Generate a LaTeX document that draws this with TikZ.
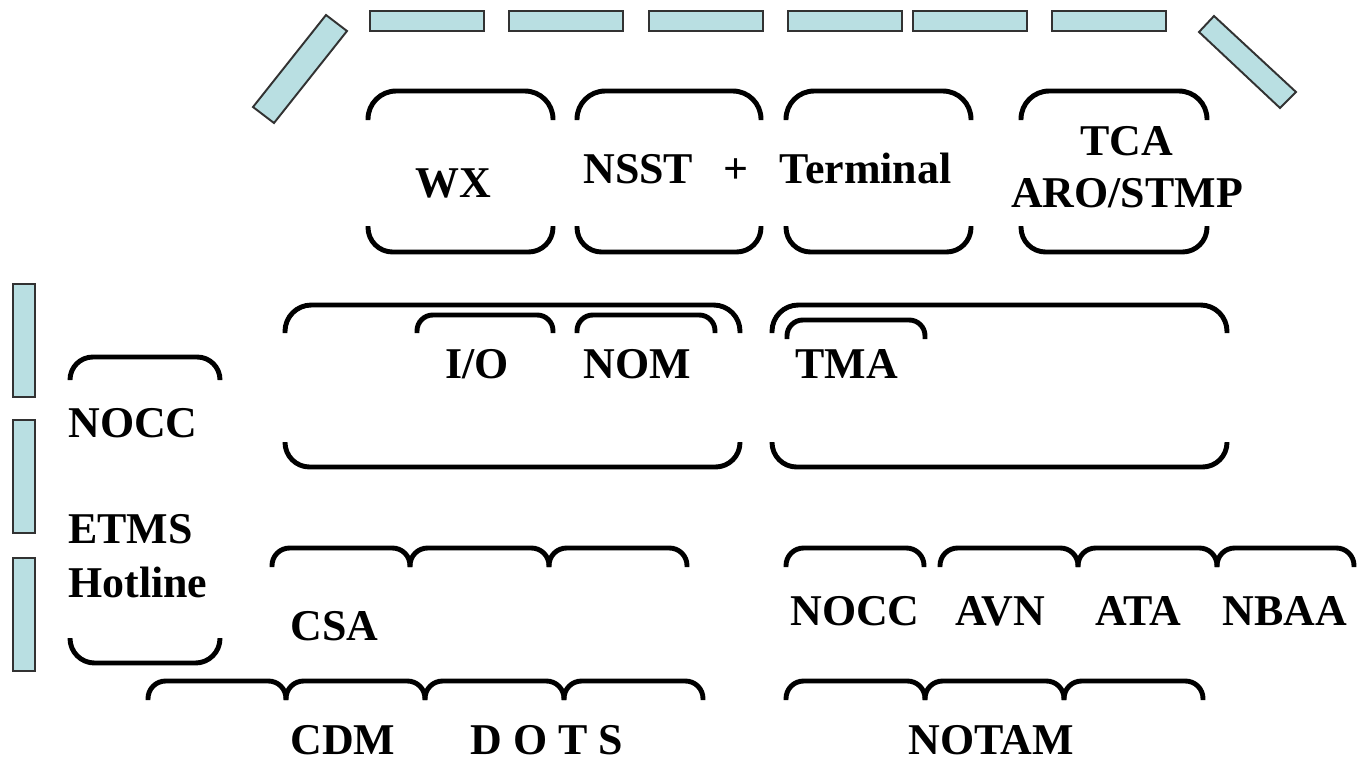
\documentclass[tikz,border=0pt]{standalone}
\usepackage{fontspec}
\setmainfont{Liberation Serif}
\usepackage{tikz}
\definecolor{panelblue}{RGB}{185,223,226}
\definecolor{panelline}{RGB}{50,50,50}
\tikzset{
  desk/.style={line width=2.8pt},
  panel/.style={fill=panelblue,draw=panelline,line width=1.1pt},
  lbl/.style={font=\bfseries\fontsize{25}{30}\selectfont,inner sep=0pt}
}

\begin{document}
\begin{tikzpicture}[x=0.02cm,y=-0.02cm]
  \useasboundingbox (0,0) rectangle (1358,762);
  % wall panels
  \foreach \x in {370,509,649,788,913,1052}
     { \draw[panel] (\x,11) rectangle ++(114,20); }
  \foreach \y in {284,420,558}
     { \draw[panel] (13,\y) rectangle ++(22,113); }
  \draw[panel] (326,15) -- (347,31) -- (274,123) -- (253,107) -- cycle;
  \draw[panel] (1214,16) -- (1296,92) -- (1280,108) -- (1199,32) -- cycle;
  % top row of positions
  \foreach \a/\b in {368/553, 577/761, 786/971, 1021/1207}
     { \draw[desk,rounded corners=16pt] (\a,120) |- (\b,91) -- (\b,120);
       \draw[desk,rounded corners=14pt] (\a,226) |- (\b,252) -- (\b,226); }
  \node[lbl,anchor=base west] (wx) at (415,197) {WX};
  \node[lbl,anchor=base west] (nsst) at (583,183)
        {NSST\hspace{17pt}+\hspace{18pt}Terminal};
  \node[lbl,anchor=base] (tca) at (1127,155) {TCA};
  \node[lbl,anchor=base] (aro) at (1127,207) {ARO/STMP};
  % middle tables
  \foreach \a/\b in {285/740, 772/1227}
     { \draw[desk,rounded corners=15pt] (\a,333) |- (\b,305) -- (\b,333);
       \draw[desk,rounded corners=14pt] (\a,442) |- (\b,467) -- (\b,442); }
  \foreach \a/\b in {417/553, 577/715}
     { \draw[desk,rounded corners=9pt] (\a,333) |- (\b,315) -- (\b,333); }
  \draw[desk,rounded corners=9pt] (787,339) |- (925,320) -- (925,339);
  \node[lbl,anchor=base west] (io) at (445,378) {I/O};
  \node[lbl,anchor=base west] (nom) at (583,378) {NOM};
  \node[lbl,anchor=base west] (tma) at (795,378) {TMA};
  % NOCC / hotline corner
  \draw[desk,rounded corners=13pt] (70,380) |- (220,357) -- (220,380);
  \draw[desk,rounded corners=14pt] (70,638) |- (220,663) -- (220,638);
  \node[lbl,anchor=base west] (noccL) at (68,437) {NOCC};
  \node[lbl,anchor=base west] (etms) at (68,543) {ETMS};
  \node[lbl,anchor=base west] (hotline) at (68,597) {Hotline};
  % lower rows
  \foreach \a/\b in {272/410, 410/549, 549/687, 786/924,
                     940/1078, 1078/1217, 1217/1354}
     { \draw[desk,rounded corners=10pt] (\a,567) |- (\b,548) -- (\b,567); }
  \foreach \a/\b in {148/286, 286/425, 425/564, 564/703,
                     786/925, 925/1064, 1064/1203}
     { \draw[desk,rounded corners=10pt] (\a,700) |- (\b,681) -- (\b,700); }
  \node[lbl,anchor=base west] (csa) at (290,640) {CSA};
  \node[lbl,anchor=base west] (noccR) at (790,625) {NOCC};
  \node[lbl,anchor=base west] (avn) at (955,625) {AVN};
  \node[lbl,anchor=base west] (ata) at (1095,625) {ATA};
  \node[lbl,anchor=base west] (nbaa) at (1222,625) {NBAA};
  \node[lbl,anchor=base west] (cdm) at (290,754) {CDM};
  \node[lbl,anchor=base west] (dots) at (470,754) {D O T S};
  \node[lbl,anchor=base west] (notam) at (908,754) {NOTAM};
\end{tikzpicture}
\end{document}
